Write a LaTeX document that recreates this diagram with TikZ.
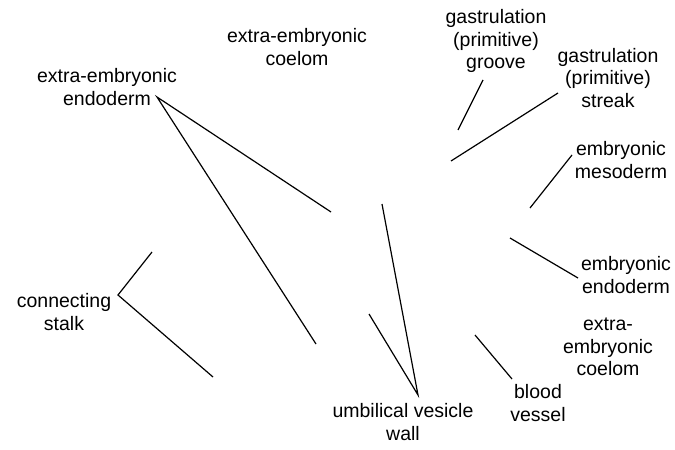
\documentclass[tikz,border=0pt]{standalone}
\usepackage{fontspec}
\setmainfont{Liberation Sans}
\usetikzlibrary{positioning}

\begin{document}
\begin{tikzpicture} [x=1pt,y=-1pt,
		 tag/.style={align=center,inner sep=0pt,font=\fontsize{19.5}{22.5}\selectfont},
		 pointer/.style={draw=black,line width=1.2pt}]
\useasboundingbox (0,0) rectangle (675,450);
% labels
\node [tag] (eeendo) at (107,87) {extra-embryonic\\endoderm};
\node [tag] (eecoeltop) at (297,47) {extra-embryonic\\coelom};
\node [tag] (groove) at (496,41) {gastrulation\\(primitive)\\groove};
\node [tag] (streak) at (608,78) {gastrulation\\(primitive)\\streak};
\node [tag] (emeso) at (621,160) {embryonic\\mesoderm};
\node [tag] (eendo) at (626,275) {embryonic\\endoderm};
\node [tag] (eecoellow) at (608,347) {extra-\\embryonic\\coelom};
\node [tag] (blood) at (538,403) {blood\\vessel};
\node [tag] (umbwall) at (403,422) {umbilical vesicle\\wall};
\node [tag] (stalk) at (64,312) {connecting\\stalk};
% end points
\coordinate (eeendo-tip) at (157,97);
\coordinate (eeendo-a) at (331,212);
\coordinate (eeendo-b) at (316,344);
\coordinate (groove-tip) at (483,80);
\coordinate (groove-a) at (458,130);
\coordinate (streak-tip) at (558,93);
\coordinate (streak-a) at (451,161);
\coordinate (emeso-tip) at (572,155);
\coordinate (emeso-a) at (530,208);
\coordinate (eendo-tip) at (578,278);
\coordinate (eendo-a) at (510,238);
\coordinate (blood-tip) at (512,379);
\coordinate (blood-a) at (475,335);
\coordinate (umbwall-tip) at (418,395);
\coordinate (umbwall-a) at (382,204);
\coordinate (umbwall-b) at (369,314);
\coordinate (stalk-tip) at (118,295);
\coordinate (stalk-a) at (152,252);
\coordinate (stalk-b) at (213,377);
% connectors
\draw [pointer] (eeendo-a) -- (eeendo-tip) -- (eeendo-b);
\draw [pointer] (groove-tip) -- (groove-a);
\draw [pointer] (streak-tip) -- (streak-a);
\draw [pointer] (emeso-tip) -- (emeso-a);
\draw [pointer] (eendo-tip) -- (eendo-a);
\draw [pointer] (blood-tip) -- (blood-a);
\draw [pointer] (umbwall-a) -- (umbwall-tip) -- (umbwall-b);
\draw [pointer] (stalk-a) -- (stalk-tip) -- (stalk-b);
\end{tikzpicture}
\end{document}
